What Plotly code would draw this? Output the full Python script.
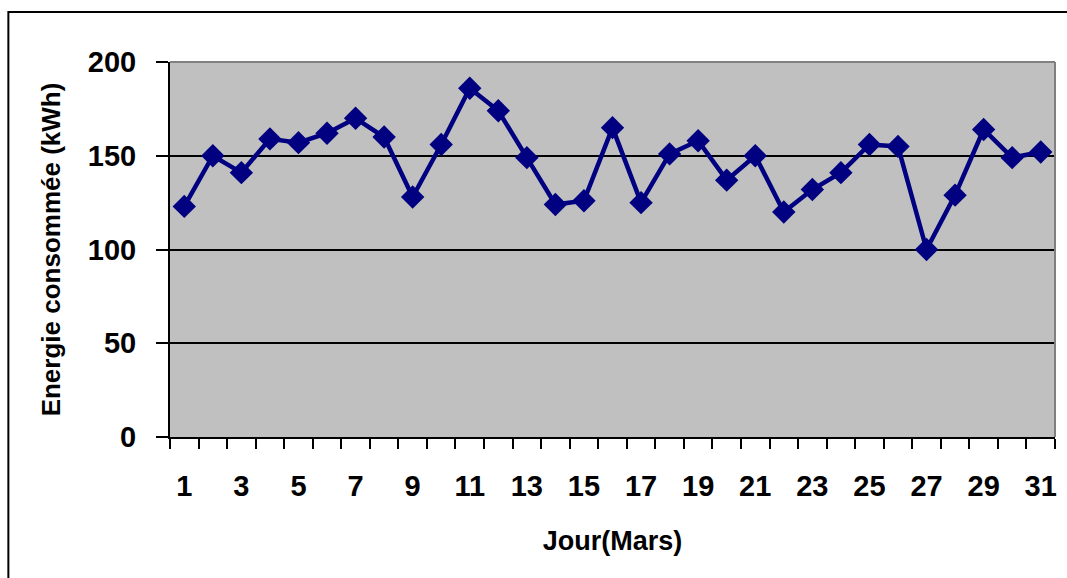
import plotly.graph_objects as go

# Daily energy consumption for March
days = list(range(1, 32))
energy_kwh = [123, 150, 141, 159, 157, 162, 170, 160, 128, 156,
              186, 174, 149, 124, 126, 165, 125, 151, 158, 137,
              150, 120, 132, 141, 156, 155, 100, 129, 164, 149, 152]

y_ticks = [0, 50, 100, 150, 200]
x_label_days = list(range(1, 32, 2))

W, H = 1067, 578
L, R, T, B = 170, 10, 62, 141
pw = W - L - R
ph = H - T - B

fig = go.Figure()
fig.add_trace(go.Scatter(
    x=days, y=energy_kwh, mode="lines+markers",
    line=dict(color="#000080", width=4.5),
    marker=dict(symbol="diamond", size=18, color="#000080"),
    cliponaxis=False, showlegend=False,
))

font_family = "Liberation Sans, Arial, sans-serif"

fig.update_layout(
    width=W, height=H,
    margin=dict(l=L, r=R, t=T, b=B, pad=0),
    paper_bgcolor="white",
    plot_bgcolor="#C0C0C0",
    font=dict(family=font_family, color="black"),
    xaxis=dict(
        range=[0.5, 31.5],
        tickmode="array", tickvals=x_label_days,
        ticktext=[str(d) for d in x_label_days],
        ticks="", showgrid=False, zeroline=False,
        showline=True, linecolor="black", linewidth=2,
        tickfont=dict(size=29, family=font_family, weight="bold"),
        ticklabelstandoff=22,
        minor=dict(tickmode="array",
                   tickvals=[d - 0.5 for d in days] + [31.5],
                   ticks="outside", ticklen=10, tickwidth=2,
                   tickcolor="black", showgrid=False),
        title=dict(text="<b>Jour(Mars)</b>",
                   font=dict(size=27, family=font_family),
                   standoff=30),
    ),
    yaxis=dict(
        range=[0, 200],
        tickmode="array", tickvals=y_ticks,
        ticks="outside", ticklen=12, tickwidth=2, tickcolor="black",
        showgrid=True, gridcolor="black", gridwidth=2,
        zeroline=False,
        showline=True, linecolor="black", linewidth=2,
        tickfont=dict(size=29, family=font_family, weight="bold"),
        ticklabelstandoff=14,
        title=dict(text="<b>Energie consommée (kWh)</b>",
                   font=dict(size=26, family=font_family),
                   standoff=20),
    ),
    shapes=[
        # gray frame on the top and right of the plot area
        dict(type="line", xref="paper", yref="paper", x0=0, x1=1, y0=1, y1=1,
             line=dict(color="#808080", width=2), layer="above"),
        dict(type="line", xref="paper", yref="paper", x0=1, x1=1, y0=0, y1=1,
             line=dict(color="#808080", width=2), layer="above"),
        # outer chart border
        dict(type="rect", xref="paper", yref="paper",
             x0=(8 - L) / pw, x1=(W + 10 - L) / pw,
             y0=(H - B - (H + 10)) / ph, y1=(H - B - 12) / ph,
             line=dict(color="black", width=2), layer="above"),
    ],
)

fig.write_html("out.html")
